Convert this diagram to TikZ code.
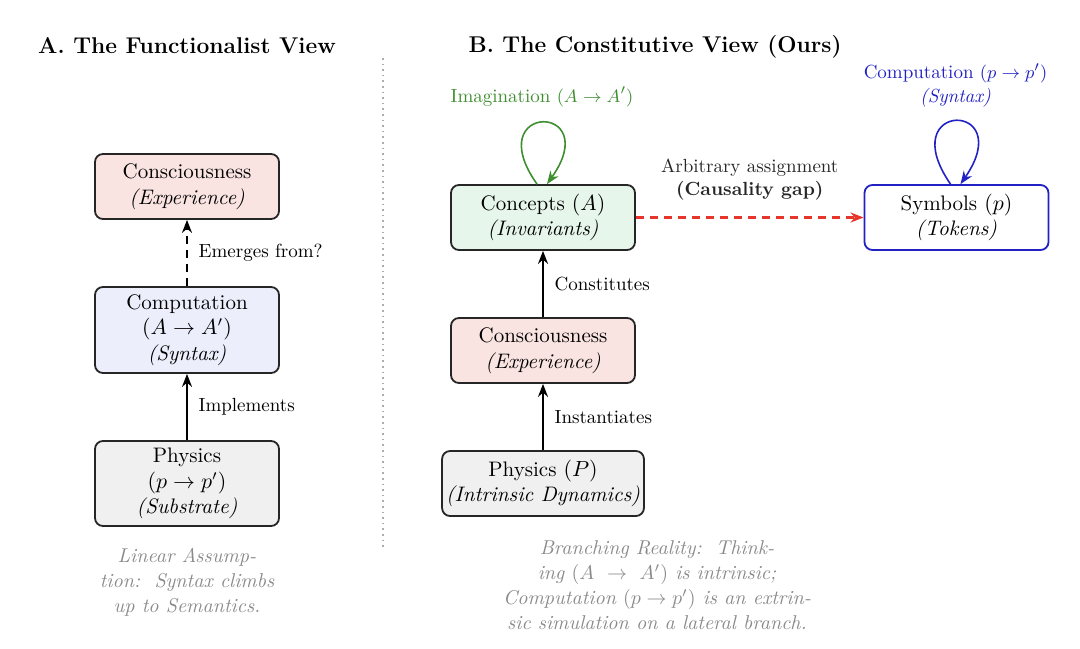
\documentclass[tikz,border=0pt]{standalone}
\usetikzlibrary{arrows.meta}
\definecolor{pinkfill}{HTML}{F9E4E2}
\definecolor{bluefill}{HTML}{ECEEFB}
\definecolor{grayfill}{HTML}{F0F0F0}
\definecolor{greenfill}{HTML}{E6F6EA}
\definecolor{myblue}{HTML}{2222C4}
\definecolor{mygreen}{HTML}{3F8E2F}
\definecolor{myred}{HTML}{E8352C}
\definecolor{capgray}{HTML}{8A8A8A}
\tikzset{
  box/.style={draw=black!85, line width=0.9pt, rounded corners=4pt, align=center,
    minimum width=92pt, minimum height=32.5pt, inner sep=2pt,
    font=\fontsize{10.5}{12.8}\selectfont},
  arr/.style={line width=1pt, -{Stealth[length=6.5pt,width=5pt]}},
  lbl/.style={font=\fontsize{9.5}{12}\selectfont, right=2pt},
  captxt/.style={font=\fontsize{10}{12.5}\selectfont\itshape, text=capgray, align=center},
  ttl/.style={font=\fontsize{11.4}{14}\selectfont\bfseries}
}
\begin{document}
\begin{tikzpicture}[x=0.5pt,y=-0.5pt]
\useasboundingbox (0,0) rectangle (1080,648);
% titles
\node[ttl] (tA) at (187,46) {A. The Functionalist View};
\node[ttl] (tB) at (655,47) {B. The Constitutive View (Ours)};
% divider
\coordinate (d1) at (383,58);
\coordinate (d2) at (383,550);
\draw[capgray!70, dotted, line width=0.8pt] (d1) -- (d2);
% left column
\node[box, fill=pinkfill] (lcon) at (187,186.5) {Consciousness\\\textit{(Experience)}};
\node[box, fill=bluefill, minimum height=43pt] (lcomp) at (187,330) {Computation\\$(A \rightarrow A')$\\\textit{(Syntax)}};
\node[box, fill=grayfill, minimum height=42.5pt] (lphy) at (187,483.5) {Physics\\$(p \rightarrow p')$\\\textit{(Substrate)}};
\draw[arr, dashed, dash pattern=on 4pt off 3pt] (lcomp.north) -- node[lbl, midway] {Emerges from?} (lcon.south);
\draw[arr] (lphy.north) -- node[lbl, midway] {Implements} (lcomp.south);
\node[captxt] (capA) at (187,582) {Linear Assump-\\tion:\ \ Syntax climbs\\up to Semantics.};
% right column
\node[box, fill=greenfill] (conc) at (543,217.5) {Concepts $(A)$\\\textit{(Invariants)}};
\node[box, fill=pinkfill] (rcon) at (543,350.5) {Consciousness\\\textit{(Experience)}};
\node[box, fill=grayfill, minimum width=98.5pt] (rphy) at (543,483.5) {Physics $(P)$\\\textit{(Intrinsic Dynamics)}};
\node[box, draw=myblue, fill=white] (sym) at (956.5,217.5) {Symbols $(p)$\\\textit{(Tokens)}};
\draw[arr] (rcon.north) -- node[lbl, midway] {Constitutes} (conc.south);
\draw[arr] (rphy.north) -- node[lbl, midway] {Instantiates} (rcon.south);
\draw[arr, myred, dashed, dash pattern=on 4pt off 3pt, line width=1.1pt] (conc.east) -- node[midway, above=5pt, align=center, text=black!85, font=\fontsize{9.5}{11.5}\selectfont] {Arbitrary assignment\\\textbf{(Causality gap)}} (sym.west);
% loops
\draw[arr, mygreen, line width=0.8pt] ([xshift=-3pt]conc.north) .. controls +(-29pt,41pt) and +(29pt,41pt) .. node[pos=0.5, above=4pt, font=\fontsize{9.5}{12}\selectfont] {Imagination $(A \rightarrow A')$} ([xshift=2pt]conc.north);
\draw[arr, myblue, line width=0.8pt] ([xshift=-3pt]sym.north) .. controls +(-29pt,42pt) and +(29pt,42pt) .. node[pos=0.5, above=3pt, align=center, font=\fontsize{9.5}{12}\selectfont] {Computation $(p \rightarrow p')$\\\textit{(Syntax)}} ([xshift=2pt]sym.north);
\node[captxt] (capB) at (657,585) {Branching Reality:\ \ Think-\\ing $(A\ \rightarrow\ A')$ is intrinsic;\\Computation $(p \rightarrow p')$ is an extrin-\\sic simulation on a lateral branch.};
\end{tikzpicture}
\end{document}
